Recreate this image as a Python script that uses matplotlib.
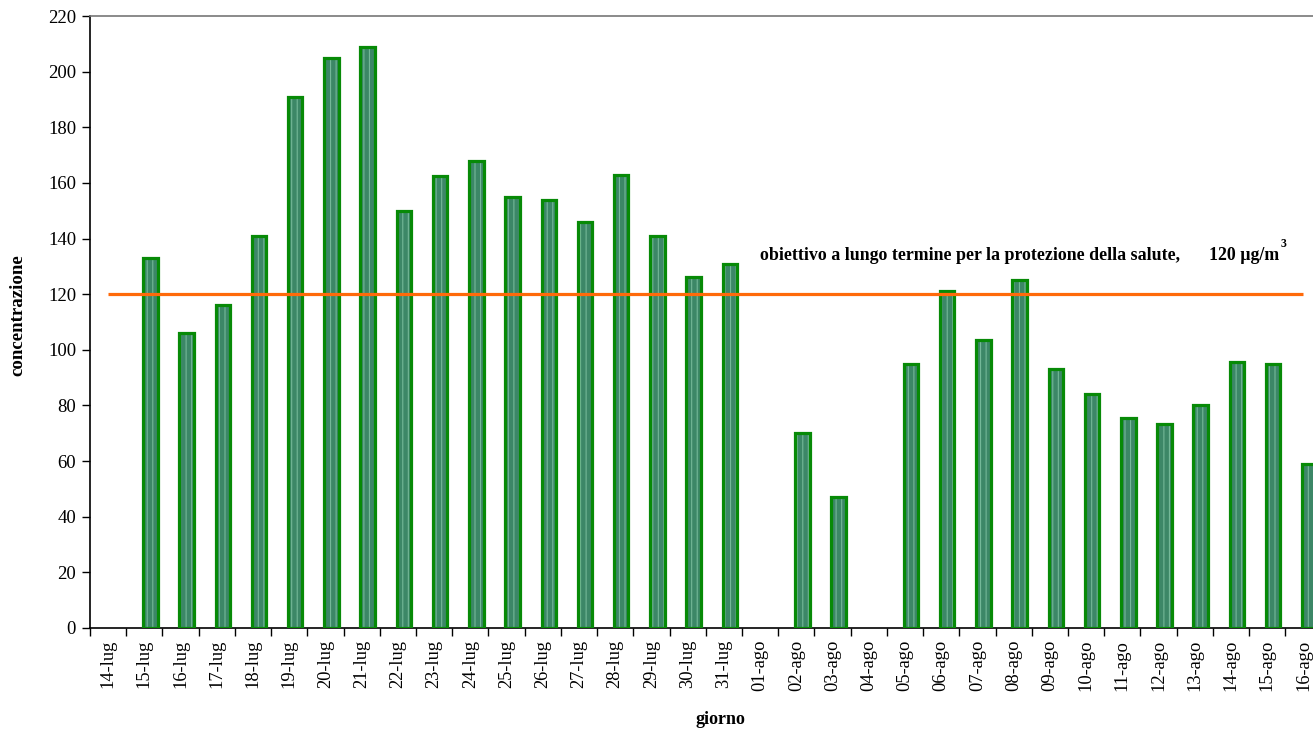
import numpy as np
import matplotlib
matplotlib.use("Agg")
import matplotlib.pyplot as plt
from matplotlib.ticker import FixedLocator, NullFormatter

# Daily ozone values (µg/m3); None = no measurement
giorni = ["14-lug", "15-lug", "16-lug", "17-lug", "18-lug", "19-lug", "20-lug",
          "21-lug", "22-lug", "23-lug", "24-lug", "25-lug", "26-lug", "27-lug",
          "28-lug", "29-lug", "30-lug", "31-lug", "01-ago", "02-ago", "03-ago",
          "04-ago", "05-ago", "06-ago", "07-ago", "08-ago", "09-ago", "10-ago",
          "11-ago", "12-ago", "13-ago", "14-ago", "15-ago", "16-ago"]
concentrazione = [None, 133, 106, 116, 141, 191, 205, 209, 150, 162.5, 168, 155,
                  154, 146, 163, 141, 126, 131, None, 70, 47, None, 95, 121,
                  103.5, 125, 93, 84, 75.5, 73.5, 80, 95.5, 95, 59]
# Long-term objective for health protection
obiettivo = [120] * len(giorni)

plt.rcParams["font.family"] = ["Liberation Serif", "DejaVu Serif"]

W, H = 1313, 729
fig = plt.figure(figsize=(W / 100, H / 100), dpi=100)
cat_w = 36.22
ax = fig.add_axes([90 / W, (H - 628) / H, len(giorni) * cat_w / W, 612 / H])

x = np.arange(len(giorni))
vals = np.array([np.nan if v is None else v for v in concentrazione], dtype=float)
mask = ~np.isnan(vals)
xb = x[mask] + 0.166
bw = 0.40

plt.rcParams["hatch.linewidth"] = 0.8
# filled body with faint stripes
ax.bar(xb, vals[mask], width=bw, color="#3c8767", edgecolor="#74b898",
       linewidth=0, hatch="|||", zorder=2)
# green outline
ax.bar(xb, vals[mask], width=bw, fill=False, edgecolor="#078a07",
       linewidth=2.3, zorder=3)

ax.plot(x, obiettivo, color="#ff6a0a", linewidth=2.3, zorder=4,
        solid_capstyle="butt")

ax.set_xlim(-0.5, len(giorni) - 0.5)
ax.set_ylim(0, 220)
ax.set_yticks(np.arange(0, 221, 20))
ax.tick_params(axis="y", direction="out", length=6, width=1, labelsize=13.5,
               pad=4, colors="black")

ax.set_xticks(x)
ax.set_xticklabels(giorni, rotation=90, fontsize=13.3)
ax.xaxis.set_minor_locator(FixedLocator(np.arange(-0.5, len(giorni), 1)))
ax.xaxis.set_minor_formatter(NullFormatter())
ax.tick_params(axis="x", which="major", length=0, pad=8.5)
ax.tick_params(axis="x", which="minor", direction="out", length=6, width=1)

for s in ("left", "bottom"):
    ax.spines[s].set_color("black")
    ax.spines[s].set_linewidth(1.2)
ax.spines["top"].set_color("#777777")
ax.spines["top"].set_linewidth(1.2)
ax.spines["right"].set_visible(False)

fig.text(18 / W, 1 - 315 / H, "concentrazione", rotation=90, ha="center",
         va="center", fontsize=13.6, fontweight="bold")
fig.text(720 / W, 1 - 719 / H, "giorno", ha="center", va="center",
         fontsize=13, fontweight="bold")

fig.text(760 / W, 1 - 255 / H,
         "obiettivo a lungo termine per la protezione della salute,",
         ha="left", va="center", fontsize=12.9, fontweight="bold")
unita = fig.text(1209 / W, 1 - 255 / H, "120 µg/m", ha="left", va="center",
                 fontsize=12.9, fontweight="bold")
fig.canvas.draw()
bb = unita.get_window_extent()
fig.text((bb.x1 + 1) / W, 1 - 244 / H, "3", ha="left", va="center",
         fontsize=8.5, fontweight="bold")

fig.savefig("out.png", dpi=100)
